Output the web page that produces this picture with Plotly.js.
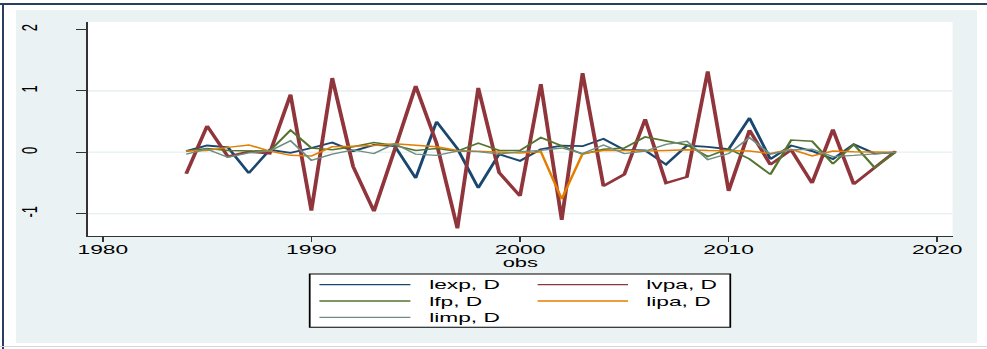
<!DOCTYPE html>
<html>
<head>
<meta charset="utf-8">
<script src="https://cdn.plot.ly/plotly-3.0.1.min.js"></script>
<style>
  html, body { margin: 0; padding: 0; background: #ffffff; }
  #frame { position: absolute; left: 0; top: 0; width: 987px; height: 349px; overflow: hidden; background: #ffffff; }
  #btop { position: absolute; left: 0; top: 3px; width: 987px; height: 2px; background: #2a3f5f; }
  #bleft { position: absolute; left: 2px; top: 3px; width: 2px; height: 346px; background: #2a3f5f; }
  #bbot { position: absolute; left: 0; top: 346px; width: 987px; height: 1px; background: #d6d6d6; }
  #chart { position: absolute; left: 16px; top: 10px; width: 549px; height: 333px; transform: scaleX(1.7505); transform-origin: 0 0; }
</style>
</head>
<body>
<div id="frame">
  <div id="btop"></div>
  <div id="bleft"></div>
  <div id="bbot"></div>
  <div id="chart"></div>
</div>
<script>
// ---- data ----
var years = [1984,1985,1986,1987,1988,1989,1990,1991,1992,1993,1994,1995,1996,1997,1998,1999,2000,
             2001,2002,2003,2004,2005,2006,2007,2008,2009,2010,2011,2012,2013,2014,2015,2016,2017,2018];
var seriesNames = ["lexp, D", "lvpa, D", "lfp, D", "lipa, D", "limp, D"];
var lexp = [0.02,0.11,0.08,-0.34,0.04,-0.01,0.07,0.16,0.02,0.12,0.10,-0.42,0.50,0.06,-0.58,-0.03,-0.14,
            0.05,0.11,0.10,0.22,0.04,0.03,-0.20,0.11,0.09,0.05,0.56,-0.11,0.11,0.02,-0.11,0.13,-0.02,0.00];
var lvpa = [-0.35,0.43,-0.07,0.01,-0.02,0.94,-0.95,1.21,-0.23,-0.96,0.05,1.08,0.15,-1.24,1.05,-0.33,-0.71,
            1.11,-1.10,1.29,-0.55,-0.36,0.54,-0.50,-0.40,1.32,-0.63,0.36,-0.20,0.04,-0.50,0.37,-0.52,-0.26,0.02];
var lfp  = [0.02,0.06,0.03,0.03,0.02,0.36,0.07,0.04,0.09,0.16,0.11,0.03,0.06,0.02,0.15,0.03,0.03,
            0.24,0.11,-0.03,0.05,0.07,0.25,0.18,0.12,-0.07,0.06,-0.11,-0.36,0.20,0.18,-0.19,0.13,-0.25,0.00];
var lipa = [0.02,0.03,0.08,0.12,0.02,-0.05,-0.06,0.09,0.10,0.11,0.14,0.11,0.09,0.03,0.02,0.00,-0.01,
            0.01,-0.76,-0.02,0.03,0.03,0.02,0.03,0.04,0.03,0.03,0.02,-0.02,0.05,-0.06,0.02,0.01,0.00,0.00];
var limp = [-0.03,0.05,-0.08,-0.01,0.02,0.19,-0.13,-0.03,0.04,-0.02,0.14,-0.03,-0.05,0.02,0.01,-0.03,0.01,
            0.03,0.07,-0.02,0.12,-0.02,0.02,0.13,0.18,-0.12,-0.02,0.24,-0.03,0.04,0.05,-0.07,-0.05,-0.02,0.00];
var xTicks = [1980, 1990, 2000, 2010, 2020];
var yTicks = [-1, 0, 1, 2];
var yTickText = ["-1", "0", "1", "2"];
var gridVals = [-1, 0, 1];
var xTitle = "obs";

// ---- style ----
var values = [lexp, lvpa, lfp, lipa, limp];
var colors = ["#1a476f", "#90353b", "#55752f", "#e37e00", "#6e8e84"];
var widths = [1.8, 2.2, 1.5, 1.5, 1.3];
var FONT = "Liberation Sans, Arial, sans-serif";

var S = 1.7505;            // horizontal stretch of chart div
var W = 549, H = 333, OX = 16, OY = 10;
var ml = (87.3 - OX) / S, mr = W - (952.3 - OX) / S, mt = 22 - OY, mb = H - (236 - OY);
var plotW = W - ml - mr, plotH = H - mt - mb;
function pxX(xf) { return ((xf - OX) / S - ml) / plotW; }
function pxY(yf) { return (H - mb - (yf - OY)) / plotH; }

var traces = values.map(function (v, i) {
  return { x: years, y: v, type: "scatter", mode: "lines", name: seriesNames[i],
           line: { color: colors[i], width: widths[i] }, hoverinfo: "x+y+name" };
});

var shapes = gridVals.map(function (g) {
  return { type: "line", xref: "paper", yref: "y", x0: 0, x1: 1, y0: g, y1: g,
           line: { color: "#eaf2f3", width: 1.6 }, layer: "below" };
});

// legend (custom, to match long Stata keys)
shapes.push({ type: "rect", xref: "paper", yref: "paper",
  x0: pxX(309.3), x1: pxX(730), y0: pxY(274), y1: pxY(327.3),
  fillcolor: "#ffffff", line: { color: "#000000", width: 1 } });
var rowsY = [284.7, 301, 317.3];
var colKey = [[319, 410, 425], [537.3, 627.7, 643]];
var annotations = [];
seriesNames.forEach(function (nm, i) {
  var r = Math.floor(i / 2), c = i % 2;
  var yy = pxY(rowsY[r]);
  shapes.push({ type: "line", xref: "paper", yref: "paper",
    x0: pxX(colKey[c][0]), x1: pxX(colKey[c][1]), y0: yy, y1: yy,
    line: { color: colors[i], width: 1.3 } });
  annotations.push({ xref: "paper", yref: "paper", x: pxX(colKey[c][2]), y: yy,
    xanchor: "left", yanchor: "middle", showarrow: false, text: nm,
    font: { family: FONT, size: 13, color: "#000000" } });
});
// x-axis title, placed tight under the tick labels like Stata
annotations.push({ xref: "paper", yref: "paper", x: pxX(520), y: pxY(263),
  xanchor: "center", yanchor: "middle", showarrow: false, text: xTitle,
  font: { family: FONT, size: 12.5, color: "#000000" } });

var layout = {
  width: W, height: H,
  margin: { l: ml, r: mr, t: mt, b: mb, pad: 0, autoexpand: false },
  paper_bgcolor: "#eaf2f3", plot_bgcolor: "#ffffff",
  showlegend: false,
  font: { family: FONT, size: 13, color: "#000000" },
  xaxis: {
    range: [1979.281, 2020.733], tickmode: "array", tickvals: xTicks,
    showgrid: false, zeroline: false, showline: true, linecolor: "#333333", linewidth: 1,
    ticks: "outside", ticklen: 5, tickcolor: "#333333", tickwidth: 1,
    tickfont: { family: FONT, size: 13, color: "#000000" },
    ticklabelstandoff: -4, automargin: false
  },
  yaxis: {
    range: [-1.363, 2.122], tickmode: "array", tickvals: yTicks, ticktext: yTickText,
    showgrid: false, zeroline: false, showline: true, linecolor: "#333333", linewidth: 1,
    ticks: "outside", ticklen: 5.7, tickcolor: "#333333", tickwidth: 1, tickangle: -90,
    tickfont: { family: FONT, size: 13, color: "#000000" },
    ticklabelstandoff: 17, automargin: false
  },
  shapes: shapes,
  annotations: annotations
};

Plotly.newPlot("chart", traces, layout, { displayModeBar: false, staticPlot: true });
</script>
</body>
</html>
